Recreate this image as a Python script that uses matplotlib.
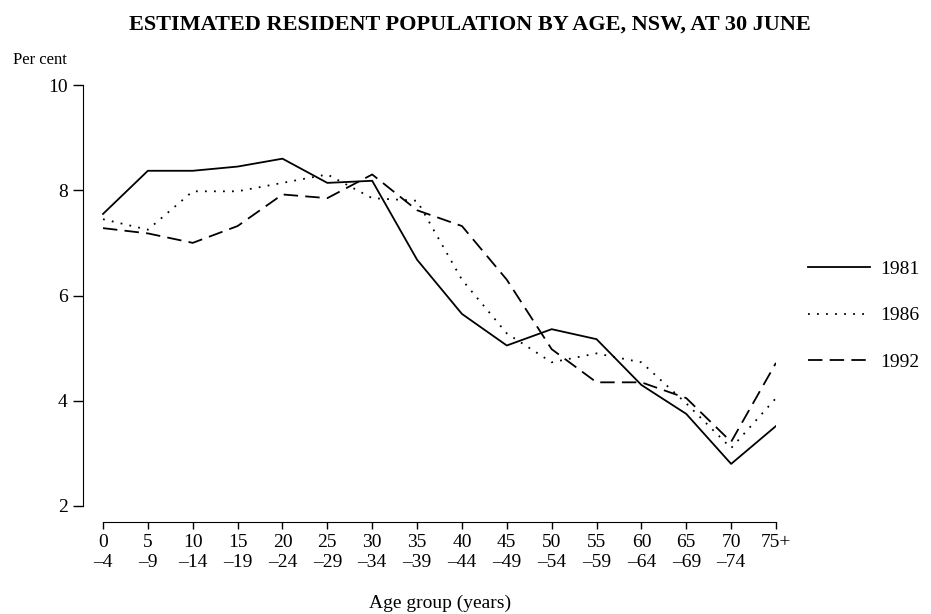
import matplotlib
matplotlib.use("Agg")
import matplotlib.pyplot as plt

plt.rcParams["font.family"] = ["Liberation Serif", "DejaVu Serif"]

AGE_LABELS = ["0\n–4", "5\n–9", "10\n–14", "15\n–19", "20\n–24", "25\n–29",
              "30\n–34", "35\n–39", "40\n–44", "45\n–49", "50\n–54", "55\n–59",
              "60\n–64", "65\n–69", "70\n–74", "75+"]

POP_1981 = [7.55, 8.37, 8.37, 8.45, 8.6, 8.14, 8.18, 6.68, 5.65, 5.05, 5.36, 5.17, 4.3, 3.75, 2.8, 3.52]
POP_1986 = [7.45, 7.25, 7.98, 7.98, 8.14, 8.3, 7.85, 7.8, 6.3, 5.28, 4.73, 4.9, 4.73, 3.95, 3.1, 4.05]
POP_1992 = [7.28, 7.18, 7.0, 7.32, 7.92, 7.85, 8.3, 7.62, 7.32, 6.3, 4.98, 4.35, 4.35, 4.05, 3.22, 4.72]

W, H = 931, 614
fig = plt.figure(figsize=(W / 100, H / 100), dpi=100)
ax = fig.add_axes([83 / W, 1 - 506 / H, (776 - 83) / W, (506 - 85) / H])

x = list(range(len(AGE_LABELS)))
ax.plot(x, POP_1981, color="black", lw=1.3, ls="-", label="1981")
ax.plot(x, POP_1986, color="black", lw=1.3, ls=(0, (1, 4)), label="1986")
ax.plot(x, POP_1992, color="black", lw=1.3, ls=(0, (8, 4)), label="1992")

ax.set_xlim(-0.446, 15)
ax.set_ylim(2, 10)
ax.set_yticks([2, 4, 6, 8, 10])
ax.set_xticks(x)
ax.tick_params(axis="y", labelsize=14, length=7, width=1, direction="out", pad=4)
ax.tick_params(axis="x", labelsize=14, length=5, width=1, direction="out", pad=4)
ax.set_xticklabels(AGE_LABELS, fontsize=14, linespacing=1.15, va="top")

for side in ("top", "right"):
    ax.spines[side].set_visible(False)
ax.spines["bottom"].set_position(("outward", 11.5))
ax.spines["bottom"].set_bounds(0, 15)
ax.spines["left"].set_bounds(2, 10)

fig.text(13 / W, 1 - 60 / H, "Per cent", fontsize=12, va="center", ha="left")
fig.text(470 / W, 1 - 25 / H, "ESTIMATED RESIDENT POPULATION BY AGE, NSW, AT 30 JUNE",
         fontsize=16, fontweight="bold", ha="center", va="center")
fig.text(440 / W, 1 - 603 / H, "Age group (years)", fontsize=14, ha="center", va="center")

fig.legend(loc="upper left", bbox_to_anchor=(808 / W, 1 - 260 / H), frameon=False,
           fontsize=14, handlelength=3.2, handletextpad=0.5, labelspacing=1.5,
           borderpad=0, borderaxespad=0)

fig.savefig("out.png", dpi=100)
